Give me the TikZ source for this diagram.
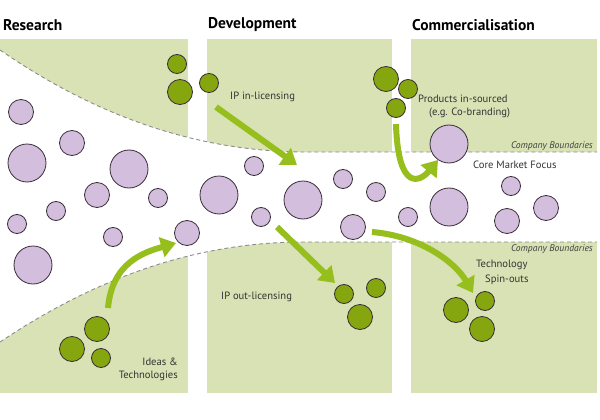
\documentclass[tikz,border=0pt]{standalone}
\usepackage{fontspec}
\setmainfont{PT Sans}
\usetikzlibrary{arrows.meta, positioning}
\definecolor{panel}{RGB}{216,226,180}
\definecolor{leaf}{RGB}{134,166,16}
\definecolor{arrowgreen}{RGB}{150,190,28}
\definecolor{lilac}{RGB}{212,190,222}
\definecolor{rim}{RGB}{55,45,55}
\newcommand{\topedge}{(0,50) .. controls (70,98) and (170,150) .. (300,152) -- (597,152)}
\newcommand{\lowedge}{(0,342) .. controls (75,292) and (175,243) .. (300,242) -- (597,242)}

\begin{document}
\begin{tikzpicture}[x=1pt,y=-1pt,
  pbub/.style={circle, draw=rim, fill=lilac, line width=0.8pt, inner sep=0pt},
  gbub/.style={circle, draw=rim, fill=leaf, line width=0.8pt, inner sep=0pt},
  flow/.style={arrowgreen, line width=6pt, -{Triangle[length=15pt,width=20pt]}},
  bound/.style={black!45, dash pattern=on 4pt off 3pt, line width=0.9pt},
  phase/.style={font=\bfseries\fontsize{15.5}{18}\selectfont, anchor=west, inner sep=0pt},
  lbl/.style={font=\fontsize{10.6}{12}\selectfont, text=black!80, inner sep=0pt},
  edge lbl/.style={font=\itshape\fontsize{9.6}{11}\selectfont, text=black!75, inner sep=0pt, anchor=east}]
\useasboundingbox (0,0) rectangle (600,420);

% green panels above and below the market
\begin{scope}
\clip (0,39) -- \topedge -- (600,152) -- (600,39) -- cycle;
\foreach \l/\r in {0/188, 207/392, 411/597}
  \fill[panel] (\l,39) rectangle (\r,393);
\end{scope}
\begin{scope}
\clip (0,393) -- \lowedge -- (600,242) -- (600,393) -- cycle;
\foreach \l/\r in {0/188, 207/392, 411/597}
  \fill[panel] (\l,39) rectangle (\r,393);
\end{scope}
\draw[bound] \topedge;
\draw[bound] \lowedge;

% phases
\node[phase] (research) at (3,25) {Research};
\node[phase] (develop) at (208,25) {Development};
\node[phase] (commerce) at (412,25) {Commercialisation};

% market bubbles
\foreach \x/\y/\d [count=\i] in {21/112/25, 72/143/25, 27/163/38, 129/169/38, 97/195/25,
  158/198/19, 56/211/19, 17/224/19, 113/237/19, 187/233/25, 33/265/38, 219/195/38,
  254/166/19, 261/217/19, 303/200/38, 343/179/19, 376/192/19, 353/227/25, 408/217/19,
  449/207/38, 449/144/38, 511/186/19, 507/221/25, 546/208/25}
  \node[pbub, minimum size=\d pt] (p\i) at (\x,\y) {};

% outside bubbles
\foreach \x/\y/\d [count=\i] in {177/64/19, 180/92/25, 209/83/19,
  386/79/25, 408/89/19, 396/108/19,
  97/329/25, 72/349/25, 101/358/19,
  344/294/19, 376/288/19, 360/317/25,
  456/310/25, 485/301/19, 482/329/25}
  \node[gbub, minimum size=\d pt] (g\i) at (\x,\y) {};

% labels
\node[lbl, anchor=west] (inlic) at (230,97) {IP in-licensing};
\node[lbl, anchor=west] (insrc) at (418,99) {Products in-sourced};
\node[lbl, anchor=west] (cobrand) at (429,113) {(e.g. Co-branding)};
\node[edge lbl] (bnd1) at (593,146) {Company Boundaries};
\node[edge lbl] (bnd2) at (593,249) {Company Boundaries};
\node[lbl, anchor=west] (core) at (473,165) {Core Market Focus};
\node[lbl, anchor=west] (tech) at (476,265) {Technology};
\node[lbl, anchor=west] (spin) at (485,280) {Spin-outs};
\node[lbl, anchor=west] (outlic) at (221,297) {IP out-licensing};
\node[lbl, anchor=east] (ideas) at (178,362) {Ideas \&};
\node[lbl, anchor=east] (techs) at (178,376) {Technologies};

% flows
\coordinate (a1) at (216,107); \coordinate (b1) at (297,165);
\coordinate (a2) at (396,124); \coordinate (b2) at (438,160);
\coordinate (a3) at (108,308); \coordinate (b3) at (176,243);
\coordinate (a4) at (277,227); \coordinate (b4) at (335,283);
\coordinate (a5) at (372,232); \coordinate (b5) at (473,293);
\draw[flow] (a1) -- (b1);
\draw[flow] (a2) .. controls (398,192) and (420,182) .. (b2);
\draw[flow] (a3) .. controls (112,262) and (145,252) .. (b3);
\draw[flow] (a4) -- (b4);
\draw[flow] (a5) .. controls (420,236) and (455,262) .. (b5);
\end{tikzpicture}
\end{document}
